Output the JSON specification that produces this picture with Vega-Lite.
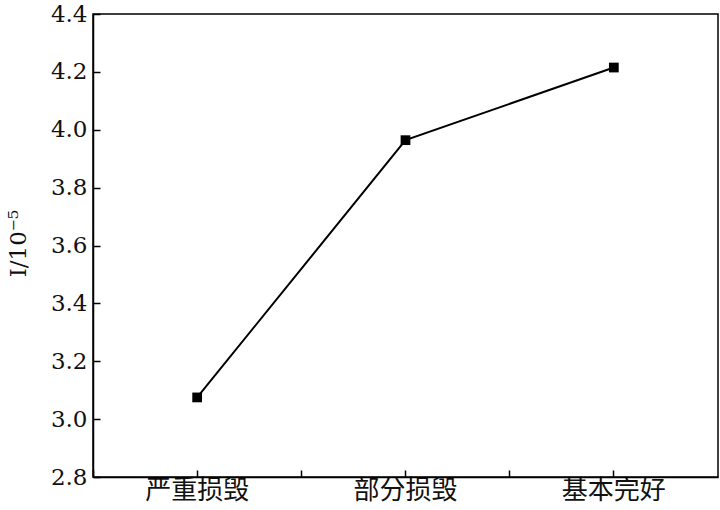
{
  "$schema": "https://vega.github.io/schema/vega-lite/v6.json",
  "width": 625,
  "height": 463,
  "autosize": "none",
  "padding": {"left": 93, "top": 14, "right": 2, "bottom": 33},
  "background": "white",
  "view": {"stroke": "black", "strokeWidth": 1.5},
  "config": {
    "axis": {
      "domainColor": "black",
      "domainWidth": 1.5,
      "tickColor": "black",
      "tickWidth": 1.5,
      "tickSize": -7,
      "grid": false,
      "labelColor": "#111",
      "titleColor": "#111"
    },
    "axisY": {"labelFont": "DejaVu Serif", "labelFontSize": 23, "titleFont": "DejaVu Serif"}
  },
  "data": {
    "values": [
      {"state": "严重损毁", "I": 3.075},
      {"state": "部分损毁", "I": 3.964},
      {"state": "基本完好", "I": 4.215}
    ]
  },
  "layer": [
    {
      "mark": {"type": "line", "color": "black", "strokeWidth": 2},
      "encoding": {
        "x": {
          "field": "state", "type": "nominal", "sort": null,
          "scale": {"type": "band", "paddingInner": 0, "paddingOuter": 0},
          "axis": {
            "orient": "bottom", "title": null, "labelAngle": 0,
            "bandPosition": 0.5,
            "labelFont": "Noto Sans CJK SC", "labelFontSize": 26,
            "labelPadding": 7, "labelBaseline": "top"
          }
        },
        "y": {
          "field": "I", "type": "quantitative",
          "scale": {"domain": [2.8, 4.4], "nice": false, "zero": false},
          "axis": {
            "orient": "left",
            "values": [2.8, 2.9, 3.0, 3.1, 3.2, 3.3, 3.4, 3.5, 3.6, 3.7, 3.8, 3.9, 4.0, 4.1, 4.2, 4.3, 4.4],
            "labelExpr": "round(datum.value*10) % 2 == 0 ? format(datum.value, '.1f') : ''",
            "labelFont": "DejaVu Serif", "labelFontSize": 23,
            "labelPadding": 13,
            "title": "I/10⁻⁵",
            "titleFont": "DejaVu Serif", "titleFontSize": 23, "titleFontWeight": "normal",
            "titleAngle": -90, "titleX": -75, "titleY": 229,
            "titleAlign": "center", "titleBaseline": "middle"
          }
        }
      }
    },
    {
      "mark": {"type": "point", "shape": "square", "filled": true, "size": 95, "color": "black", "opacity": 1},
      "encoding": {
        "x": {"field": "state", "type": "nominal", "sort": null, "axis": null},
        "y": {"field": "I", "type": "quantitative"}
      }
    },
    {
      "mark": {"type": "point", "opacity": 0},
      "encoding": {
        "x": {
          "field": "state", "type": "nominal", "sort": null,
          "axis": {"orient": "bottom", "title": null, "labels": false, "domain": false, "bandPosition": 0}
        },
        "y": {"field": "I", "type": "quantitative"}
      }
    }
  ],
  "resolve": {"axis": {"x": "independent"}}
}
